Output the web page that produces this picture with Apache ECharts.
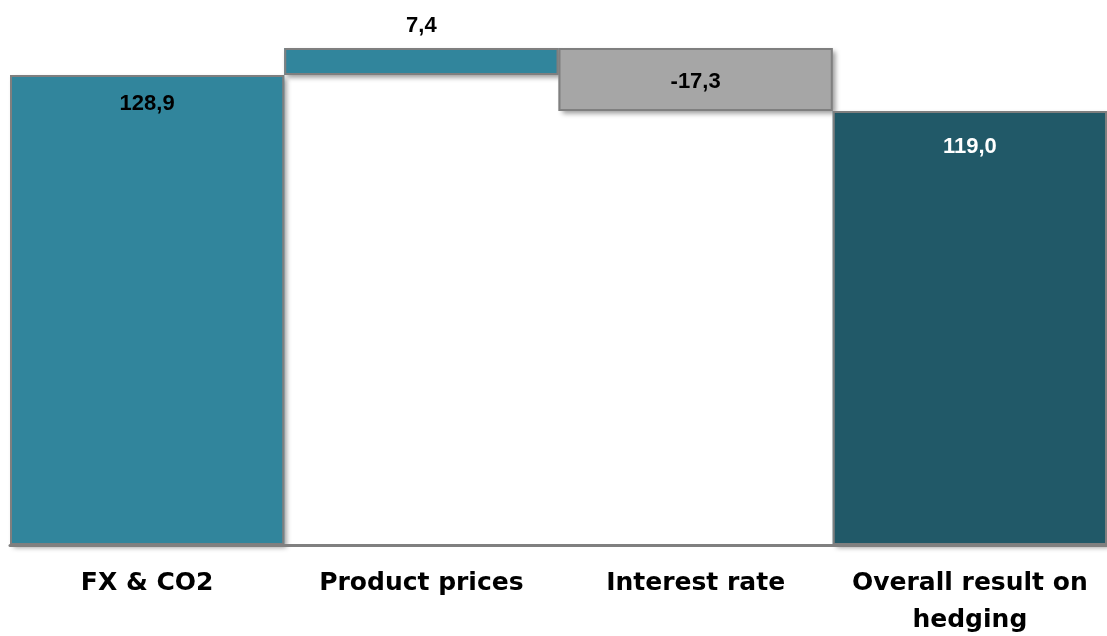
<!DOCTYPE html>
<html>
<head>
<meta charset="utf-8">
<style>
  html, body { margin: 0; padding: 0; background: #ffffff; }
  #chart { width: 1107px; height: 636px; }
</style>
<script src="https://cdn.jsdelivr.net/npm/echarts@6/dist/echarts.min.js"></script>
</head>
<body>
<div id="chart"></div>
<script>
// Hedging result bridge (waterfall)
const categories = ['FX & CO2', 'Product prices', 'Interest rate', 'Overall result on\nhedging'];
const changes = [128.9, 7.4, -17.3, 119.0];
const isTotal = [false, false, false, true];
const barColors = ['#31859C', '#31859C', '#A6A6A6', '#215968'];
const labelColors = ['#000000', '#000000', '#000000', '#ffffff'];

// Build invisible base + visible step for each column
const baseData = [];
const stepData = [];
let running = 0;
changes.forEach((v, i) => {
  if (isTotal[i]) {
    baseData.push(0);
    stepData.push(v);
    running = v;
  } else {
    const start = running;
    const end = running + v;
    baseData.push(Math.min(start, end));
    stepData.push(Math.abs(v));
    running = end;
  }
});

const fmt = v => (v < 0 ? '-' : '') + Math.abs(v).toFixed(1).replace('.', ',');

// Label placement for each column
const labelPos = [
  { position: 'insideTop', distance: 17 },
  { position: 'top', distance: 10 },
  { position: 'insideTop', distance: 22 },
  { position: 'insideTop', distance: 24 }
];

const chart = echarts.init(document.getElementById('chart'), null, { renderer: 'canvas' });

const common = { type: 'bar', barCategoryGap: '0%', barGap: '-100%' };

chart.setOption({
  animation: false,
  backgroundColor: '#ffffff',
  grid: { left: 10, right: 0, top: 34.4, bottom: 91, containLabel: false, outerBoundsMode: 'none' },
  xAxis: {
    type: 'category',
    data: categories,
    axisTick: { show: false },
    axisLine: { show: true, lineStyle: { color: '#808080', width: 3 } },
    axisLabel: {
      interval: 0,
      margin: 20,
      color: '#000000',
      fontFamily: 'DejaVu Sans',
      fontWeight: 'bold',
      fontSize: 25,
      lineHeight: 37,
      verticalAlign: 'top',
      align: 'center'
    },
    z: 10
  },
  yAxis: {
    type: 'value',
    min: 0,
    max: 140,
    show: false,
    splitLine: { show: false }
  },
  series: [
    // filled steps with drop shadow
    Object.assign({}, common, {
      name: 'base', stack: 'fill', silent: true,
      itemStyle: { color: 'rgba(0,0,0,0)' },
      data: baseData
    }),
    Object.assign({}, common, {
      name: 'step', stack: 'fill',
      data: stepData.map((v, i) => ({
        value: v,
        itemStyle: {
          color: barColors[i],
          shadowColor: 'rgba(0,0,0,0.4)',
          shadowBlur: 5,
          shadowOffsetX: 3,
          shadowOffsetY: 3
        }
      }))
    }),
    // grey outlines and value labels on top
    Object.assign({}, common, {
      name: 'base outline', stack: 'outline', silent: true,
      itemStyle: { color: 'rgba(0,0,0,0)' },
      data: baseData
    }),
    Object.assign({}, common, {
      name: 'step outline', stack: 'outline',
      data: stepData.map((v, i) => ({
        value: v,
        itemStyle: {
          color: 'rgba(0,0,0,0)',
          borderColor: '#7F7F7F',
          borderWidth: 2
        },
        label: {
          show: true,
          position: labelPos[i].position,
          distance: labelPos[i].distance,
          formatter: () => fmt(changes[i]),
          color: labelColors[i],
          fontFamily: 'Liberation Sans',
          fontWeight: 'bold',
          fontSize: 22,
          lineHeight: 24
        }
      }))
    })
  ]
});
</script>
</body>
</html>
